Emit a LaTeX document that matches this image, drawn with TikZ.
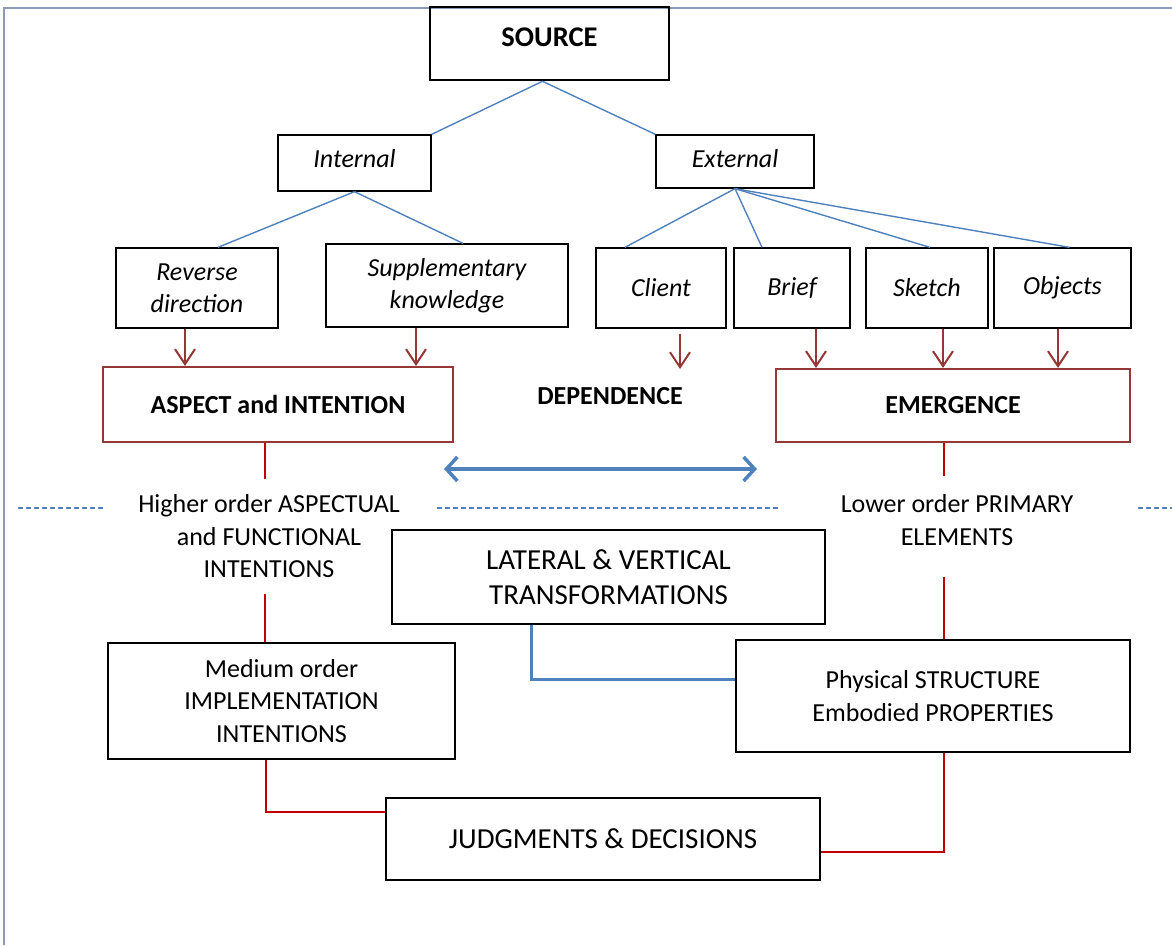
\documentclass[tikz,border=0pt]{standalone}
\usepackage{fontspec}
\setmainfont{Carlito}
\usetikzlibrary{arrows.meta}
\definecolor{ablue}{HTML}{4F81BD}
\definecolor{dred}{HTML}{953735}
\definecolor{lred}{HTML}{C00000}
\definecolor{framec}{HTML}{8C9BB5}
\begin{document}
\begin{tikzpicture}[x=1pt,y=-1pt,
  box/.style={draw=black, line width=1.3pt, inner sep=0pt, align=center, font=\fontsize{26}{32.5}\selectfont},
  ibox/.style={box, font=\fontsize{26}{32}\selectfont\itshape},
  rbox/.style={box, draw=dred, line width=2.2pt, font=\fontsize{26}{32}\selectfont\bfseries},
  bigbox/.style={box, font=\fontsize{29}{35}\selectfont},
  txt/.style={align=center, inner xsep=0pt, font=\fontsize{26}{32.5}\selectfont},
  bl/.style={draw=ablue, line width=1.4pt},
  rl/.style={draw=lred, line width=1.4pt},
  arr/.style={draw=dred, line width=2pt, -{Straight Barb[length=15pt,width=20pt]}},
  dsh/.style={draw=ablue, line width=1.5pt, dash pattern=on 5pt off 3pt}
]
\useasboundingbox (0,0) rectangle (1172,945);
% outer frame
\draw[draw=framec, line width=1.5pt] (1172,8) -- (4,8) -- (4,945);

% top tree
\node[box, line width=2.6pt, minimum width=239, minimum height=73, font=\fontsize{28.5}{34}\selectfont\bfseries] (src) at (549.5,43.5) {\raisebox{12pt}{SOURCE}};
\node[ibox, minimum width=153, minimum height=56] (int) at (354.5,163) {\raisebox{10pt}{Internal}};
\node[ibox, minimum width=158, minimum height=53] (ext) at (735,161.5) {\raisebox{6pt}{External}};

\node[ibox, minimum width=162, minimum height=80] (rev) at (197,288) {Reverse\\direction};
\node[ibox, minimum width=242, minimum height=83] (sup) at (447,285.5) {Supplementary\\knowledge};
\node[ibox, minimum width=130, minimum height=80] (cli) at (661,288) {Client};
\node[ibox, minimum width=116, minimum height=80] (bri) at (792,288) {Brief};
\node[ibox, minimum width=122, minimum height=80] (ske) at (927,288) {Sketch};
\node[ibox, minimum width=137, minimum height=80] (obj) at (1062.5,288) {Objects};

\draw[bl] ([xshift=-7pt]src.south) -- (int.north east);
\draw[bl] ([xshift=-7pt]src.south) -- (ext.north west);
\draw[bl] (int.south) -- ([xshift=21pt]rev.north);
\draw[bl] (int.south) -- ([xshift=16pt]sup.north);
\draw[bl] (ext.south) -- ([xshift=-36pt]cli.north);
\draw[bl] (ext.south) -- ([xshift=-30pt]bri.north);
\draw[bl] (ext.south) -- ([xshift=3pt]ske.north);
\draw[bl] (ext.south) -- ([xshift=7pt]obj.north);

% middle row
\node[rbox, minimum width=350, minimum height=75] (asp) at (278,404.5) {ASPECT and INTENTION};
\node[rbox, minimum width=354, minimum height=73] (eme) at (953,405.5) {EMERGENCE};
\node[txt, inner ysep=0pt, font=\fontsize{26}{32}\selectfont\bfseries] (dep) at (610,396) {DEPENDENCE};
\coordinate (cliend) at (680,369);

\draw[arr] ([xshift=-12pt]rev.south) -- ([xshift=-12pt]rev.south |- asp.north);
\draw[arr] ([xshift=-31pt]sup.south) -- ([xshift=-31pt]sup.south |- asp.north);
\draw[arr] ([xshift=19pt,yshift=-5pt]cli.south) -- (cliend);
\draw[arr] ([xshift=24pt]bri.south) -- ([xshift=24pt]bri.south |- eme.north);
\draw[arr] ([xshift=16pt]ske.south) -- ([xshift=16pt]ske.south |- eme.north);
\draw[arr] ([xshift=-4.5pt]obj.south) -- ([xshift=-4.5pt]obj.south |- eme.north);

% levels
\node[txt, inner ysep=16pt] (hig) at (269,536.5) {Higher order ASPECTUAL\\and FUNCTIONAL\\INTENTIONS};
\node[txt, inner ysep=18pt] (low) at (957,520) {Lower order PRIMARY\\ELEMENTS};

\coordinate (da1) at (444,469);
\coordinate (da2) at (757,469);
\draw[bl, line width=3.5pt, {Straight Barb[length=11pt,width=24pt]}-{Straight Barb[length=11pt,width=24pt]}] (da1) -- (da2);

\coordinate (d1) at (18,508);
\coordinate (d2) at (103,508);
\coordinate (d3) at (437,508);
\coordinate (d4) at (780,508);
\coordinate (d5) at (1138,508);
\coordinate (d6) at (1172,508);
\draw[dsh] (d1) -- (d2);
\draw[dsh] (d3) -- (d4);
\draw[dsh] (d5) -- (d6);

\node[bigbox, minimum width=433, minimum height=94] (lat) at (608.5,577) {LATERAL \& VERTICAL\\TRANSFORMATIONS};
\node[box, minimum width=347, minimum height=116] (med) at (281.5,701) {Medium order\\IMPLEMENTATION\\INTENTIONS};
\node[box, minimum width=394, minimum height=112] (phy) at (933,696) {Physical STRUCTURE\\Embodied PROPERTIES};
\node[bigbox, minimum width=434, minimum height=82] (jud) at (603,839) {JUDGMENTS \& DECISIONS};

% red connectors
\draw[rl] ([xshift=-13pt]asp.south) -- ([xshift=-13pt]asp.south |- hig.north);
\draw[rl] ([xshift=-13pt]asp.south |- hig.south) -- ([xshift=-13pt]asp.south |- med.north);
\draw[rl] ([xshift=-9pt]eme.south) -- ([xshift=-9pt]eme.south |- low.north);
\draw[rl] ([xshift=-9pt,yshift=-13pt]eme.south |- low.south) -- ([xshift=-9pt]eme.south |- phy.north);
\draw[rl] ([xshift=-15.5pt]med.south) |- ([yshift=27pt]jud.west);
\draw[rl] ([yshift=-13pt]jud.east) -| ([xshift=11pt]phy.south);

% blue connector
\draw[bl, line width=3pt] ([xshift=-77.5pt]lat.south) |- ([yshift=17pt]phy.west);
\end{tikzpicture}
\end{document}
